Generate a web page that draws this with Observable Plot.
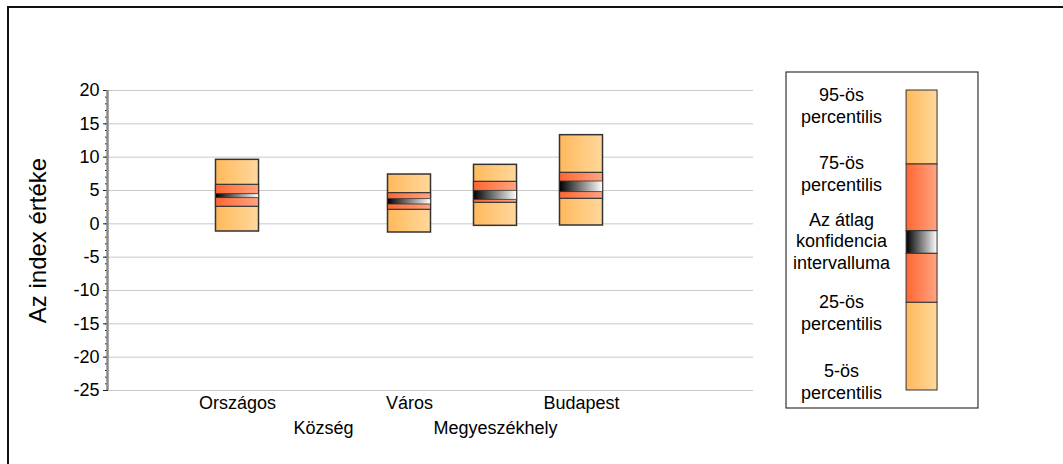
<!DOCTYPE html>
<html>
<head>
<meta charset="utf-8">
<script src="https://cdn.jsdelivr.net/npm/d3@7"></script>
<script src="https://cdn.jsdelivr.net/npm/@observablehq/plot@0.6"></script>
<style>
  html, body { margin: 0; padding: 0; background: #fff; overflow: hidden; }
  #wrap { position: relative; width: 1063px; height: 464px; overflow: hidden; }
  #frame { position: absolute; left: 7px; top: 6px; width: 1100px; height: 520px; border: 2px solid #111; box-sizing: border-box; pointer-events: none; z-index: 2; }
  #chart { position: absolute; left: 0; top: 0; z-index: 1; }
  svg { font-family: "Liberation Sans", Arial, sans-serif; }
</style>
</head>
<body>
<div id="wrap">
  <div id="chart"></div>
  <div id="frame"></div>
</div>
<script>
// ---- data ----
const categories = ["Országos", "Község", "Város", "Megyeszékhely", "Budapest"];
const p5   = [-1.15, null, -1.3, -0.3, -0.25];
const p25  = [2.55, null, 2.1, 3.15, 3.75];
const ciLo = [3.85, null, 2.9, 3.6, 4.75];
const ciHi = [4.45, null, 3.7, 4.95, 6.35];
const p75  = [5.85, null, 4.6, 6.3, 7.65];
const p95  = [9.6, null, 7.4, 8.85, 13.3];
const yTicks = [20, 15, 10, 5, 0, -5, -10, -15, -20, -25];

// legend (drawn on the same value scale)
const legendStops = [20, 8.9, -1.1, -4.5, -11.85, -25];
const legendLabels = ["95-ös\npercentilis", "75-ös\npercentilis", "Az átlag\nkonfidencia\nintervalluma", "25-ös\npercentilis", "5-ös\npercentilis"];
const legendLabelY = [17.85, 7.65, -2.5, -13.25, -23.6];

// ---- derived tables ----
const boxes = categories.map((c, i) => ({c, x: i + 1.5, p5: p5[i], p25: p25[i], lo: ciLo[i], hi: ciHi[i], p75: p75[i], p95: p95[i]})).filter(d => d.p5 != null);
const catLabels = categories.map((c, i) => ({c, x: i + 1.5, row: i % 2}));
const legendX = 9.46, legendHalf = 0.18;
const legendSegs = [
  {y1: legendStops[1], y2: legendStops[0], f: "url(#gOuter)"},
  {y1: legendStops[2], y2: legendStops[1], f: "url(#gInner)"},
  {y1: legendStops[3], y2: legendStops[2], f: "url(#gCI)"},
  {y1: legendStops[4], y2: legendStops[3], f: "url(#gInner)"},
  {y1: legendStops[5], y2: legendStops[4], f: "url(#gOuter)"}
];

const defs = () => {
  const d = d3.create("svg:defs");
  const mk = (id, c0, c1) => {
    const g = d.append("linearGradient").attr("id", id).attr("x1", "0").attr("x2", "1").attr("y1", "0").attr("y2", "0");
    g.append("stop").attr("offset", "0").attr("stop-color", c0);
    g.append("stop").attr("offset", "1").attr("stop-color", c1);
  };
  mk("gOuter", "#FFB95C", "#FFD89C");
  mk("gInner", "#FF6630", "#FFA482");
  mk("gCI", "#000000", "#FFFFFF");
  return d.node();
};

const W = 1063, H = 464, mL = 108, unit = 86;
const halfW = 0.25;

const chart = Plot.plot({
  width: W, height: H,
  marginLeft: mL, marginRight: 0, marginTop: 90, marginBottom: 74,
  x: {type: "linear", domain: [0, (W - mL) / unit], axis: null},
  y: {domain: [-25, 20], axis: null},
  style: {fontFamily: "Liberation Sans, Arial, sans-serif", background: "white", overflow: "visible"},
  marks: [
    defs,
    Plot.ruleY(yTicks, {x1: 0, x2: 7.5, stroke: "#c8c8c8", strokeWidth: 1}),
    Plot.axisY(d3.range(-25, 21, 1), {anchor: "left", tickSize: 3, text: null, stroke: "#222", strokeWidth: 1}),
    Plot.axisY(yTicks, {anchor: "left", tickSize: 5, tickPadding: 4, fontSize: 18, fill: "#000", stroke: "#222", tickFormat: d => String(d).replace("−", "-")}),
    Plot.ruleX([0], {y1: -25, y2: 20, stroke: "#8a8a8a", strokeWidth: 2.5, dx: -1}),
    Plot.text(["Az index értéke"], {frameAnchor: "left", textAnchor: "middle", dx: -70, rotate: -90, fontSize: 24, fill: "#000"}),
    // boxes
    Plot.rect(boxes, {x1: d => d.x - halfW, x2: d => d.x + halfW, y1: "p5", y2: "p95", fill: "url(#gOuter)", stroke: "#333", strokeWidth: 1.5}),
    Plot.rect(boxes, {x1: d => d.x - halfW, x2: d => d.x + halfW, y1: "p25", y2: "p75", fill: "url(#gInner)", stroke: "#333", strokeWidth: 1.2}),
    Plot.rect(boxes, {x1: d => d.x - halfW, x2: d => d.x + halfW, y1: "lo", y2: "hi", fill: "url(#gCI)", stroke: "#333", strokeWidth: 0.8}),
    // category labels
    Plot.text(catLabels, {x: "x", text: "c", frameAnchor: "bottom", fontSize: 18, fill: "#000", lineAnchor: "middle"}),
    // legend
    Plot.rect([0], {x1: 7.884, x2: 10.116, y1: -27.7, y2: 22.7, fill: "none", stroke: "#333", strokeWidth: 1.2}),
    Plot.rect(legendSegs, {x1: legendX - legendHalf, x2: legendX + legendHalf, y1: "y1", y2: "y2", fill: "f", stroke: "#333", strokeWidth: 1}),
    Plot.text(legendLabels, {x: 8.523, y: (d, i) => legendLabelY[i], text: d => d, fontSize: 18, lineHeight: 1.2, fill: "#000", lineAnchor: "middle"})
  ]
});

document.getElementById("chart").appendChild(chart);

// stagger category label rows
(function(){
  const groups = chart.querySelectorAll("g[aria-label='text']");
  const catGroup = groups[1];
  if (catGroup) {
    catGroup.querySelectorAll("text").forEach((t, i) => {
      t.setAttribute("dy", catLabels[i].row === 0 ? "13" : "38");
    });
  }
})();
</script>
</body>
</html>
